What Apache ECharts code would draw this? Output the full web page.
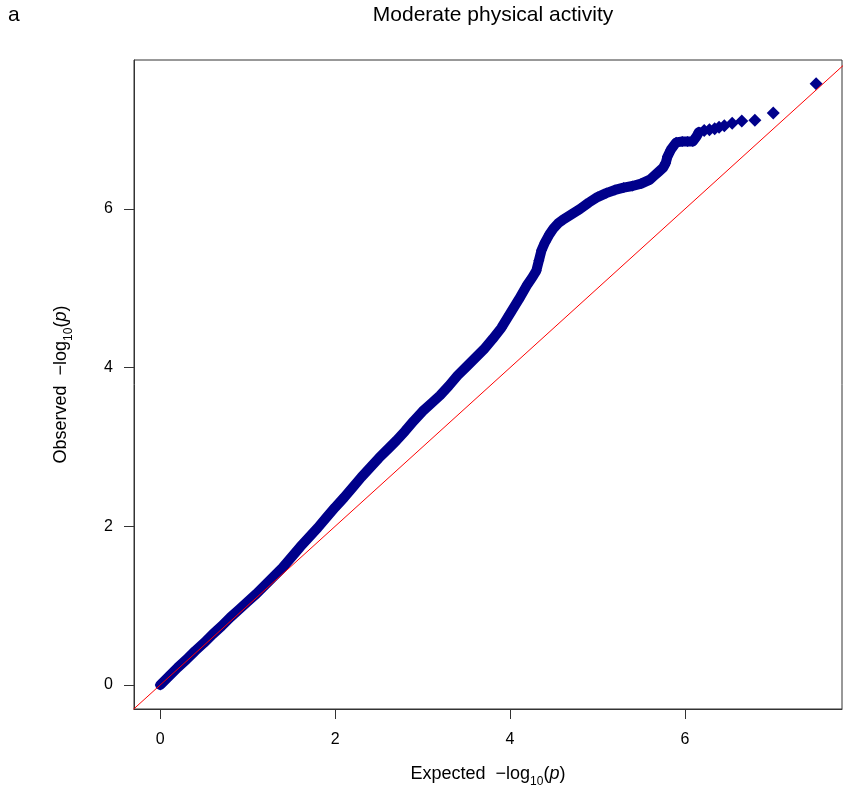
<!DOCTYPE html>
<html>
<head>
<meta charset="utf-8">
<title>QQ plot</title>
<script src="https://cdn.jsdelivr.net/npm/echarts@6/dist/echarts.min.js"></script>
<style>
  html, body { margin: 0; padding: 0; background: #fff; }
  #main { width: 843px; height: 791px; }
</style>
</head>
<body>
<div id="main"></div>
<script>
// dense part of the QQ curve (expected, observed -log10 p)
const expected = [0.00, 0.10, 0.20, 0.30, 0.40, 0.50, 0.60, 0.70, 0.80, 0.90,
  1.00, 1.10, 1.20, 1.30, 1.40, 1.50, 1.60, 1.70, 1.80, 1.90,
  2.00, 2.10, 2.20, 2.30, 2.40, 2.50, 2.60, 2.70, 2.80, 2.90,
  3.00, 3.10, 3.20, 3.30, 3.40, 3.50, 3.60, 3.70, 3.80, 3.90,
  4.00, 4.10, 4.20, 4.25, 4.30, 4.33, 4.36, 4.40, 4.45, 4.50,
  4.55, 4.60, 4.70, 4.80, 4.90, 5.00, 5.10, 5.20, 5.30, 5.40,
  5.50, 5.60, 5.65, 5.70, 5.75, 5.78, 5.80, 5.84, 5.90, 5.97,
  6.03, 6.09, 6.13, 6.16];
const observed = [0.00, 0.11, 0.22, 0.32, 0.43, 0.53, 0.64, 0.74, 0.85, 0.95,
  1.05, 1.15, 1.26, 1.37, 1.48, 1.61, 1.74, 1.86, 1.98, 2.11,
  2.24, 2.36, 2.49, 2.62, 2.74, 2.86, 2.97, 3.08, 3.20, 3.33,
  3.45, 3.55, 3.65, 3.77, 3.90, 4.01, 4.12, 4.23, 4.36, 4.50,
  4.68, 4.86, 5.05, 5.13, 5.22, 5.35, 5.48, 5.58, 5.68, 5.76,
  5.82, 5.86, 5.93, 6.00, 6.08, 6.15, 6.20, 6.24, 6.27, 6.29,
  6.32, 6.37, 6.42, 6.47, 6.52, 6.58, 6.66, 6.75, 6.84, 6.85,
  6.85, 6.85, 6.91, 6.97];

// sparse top tail, single diamonds
const tailExpected = [6.22, 6.28, 6.34, 6.39, 6.45, 6.54, 6.65, 6.80, 7.01, 7.50];
const tailObserved = [6.99, 7.00, 7.01, 7.03, 7.05, 7.08, 7.11, 7.12, 7.21, 7.58];

// y = x reference line ends
const refLine = [-0.4, 8.0];

const xTicks = [0, 2, 4, 6];
const yTicks = [0, 2, 4, 6];

const FONT = '"Liberation Sans", Arial, Helvetica, sans-serif';
const POINT_COLOR = '#00008B';

const bandData = expected.map((x, i) => [x, observed[i]]);
const tailData = tailExpected.map((x, i) => [x, tailObserved[i]]);
const refData = refLine.map(v => [v, v]);

const axisName = () => ({
  rich: {
    a: { fontFamily: FONT, fontSize: 18, color: '#000' },
    s: { fontFamily: FONT, fontSize: 12, color: '#000', verticalAlign: 'bottom', padding: [0, 0, -5, 0] },
    i: { fontFamily: FONT, fontSize: 18, color: '#000', fontStyle: 'italic' }
  }
});

const chart = echarts.init(document.getElementById('main'), null, { renderer: 'canvas' });

chart.setOption({
  backgroundColor: '#fff',
  animation: false,
  title: [
    {
      text: 'Moderate physical activity',
      left: 488,
      top: 0,
      textAlign: 'center',
      textStyle: { fontFamily: FONT, fontSize: 21, fontWeight: 'normal', color: '#000' }
    },
    {
      text: 'a',
      left: 3,
      top: 0,
      textStyle: { fontFamily: FONT, fontSize: 21, fontWeight: 'normal', color: '#000' }
    }
  ],
  grid: {
    left: 134,
    right: 1,
    top: 60,
    bottom: 82,
    outerBoundsMode: 'none',
    containLabel: false,
    show: true,
    borderColor: '#333',
    borderWidth: 1
  },
  xAxis: {
    type: 'value',
    min: -0.3,
    max: 7.796,
    name: '{a|Expected  \u2212log}{s|10}{a|(}{i|p}{a|)}',
    nameLocation: 'middle',
    nameGap: 56,
    nameTextStyle: axisName(),
    axisLine: { show: true, onZero: false, lineStyle: { color: '#333', width: 1 } },
    axisTick: { show: true, length: 10, lineStyle: { color: '#333' }, customValues: xTicks },
    axisLabel: { fontFamily: FONT, fontSize: 16, color: '#000', margin: 23, customValues: xTicks },
    splitLine: { show: false }
  },
  yAxis: {
    type: 'value',
    min: -0.303,
    max: 7.878,
    name: '{a|Observed  \u2212log}{s|10}{a|(}{i|p}{a|)}',
    nameLocation: 'middle',
    nameGap: 64,
    nameRotate: 90,
    nameTextStyle: axisName(),
    axisLine: { show: true, onZero: false, lineStyle: { color: '#333', width: 1 } },
    axisTick: { show: true, length: 10, lineStyle: { color: '#333' }, customValues: yTicks },
    axisLabel: { fontFamily: FONT, fontSize: 16, color: '#000', margin: 21, customValues: yTicks },
    splitLine: { show: false }
  },
  series: [
    {
      // dense body of points, drawn as a thick band of diamonds
      type: 'line',
      data: bandData,
      symbol: 'diamond',
      symbolSize: 11,
      showSymbol: true,
      lineStyle: { color: POINT_COLOR, width: 10, cap: 'round', join: 'round' },
      itemStyle: { color: POINT_COLOR, opacity: 1 },
      z: 2
    },
    {
      type: 'scatter',
      data: tailData,
      symbol: 'diamond',
      symbolSize: 13,
      itemStyle: { color: POINT_COLOR, opacity: 1 },
      z: 2
    },
    {
      type: 'line',
      data: refData,
      symbol: 'none',
      clip: true,
      lineStyle: { color: '#ff0000', width: 1 },
      z: 3
    }
  ]
});
</script>
</body>
</html>
